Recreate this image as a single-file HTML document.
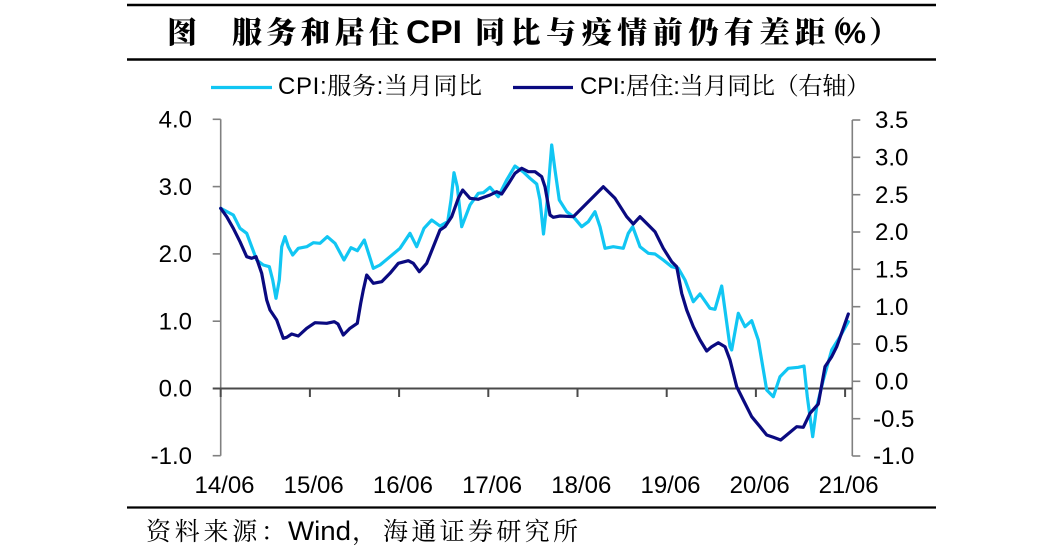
<!DOCTYPE html>
<html><head><meta charset="utf-8"><style>
html,body{margin:0;padding:0;background:#fff;}
svg{display:block;}
</style></head><body>
<svg width="1057" height="554" viewBox="0 0 1057 554" xmlns="http://www.w3.org/2000/svg">
<rect width="1057" height="554" fill="#fff"/>
<!-- frame lines -->
<line x1="127" y1="5" x2="936" y2="5" stroke="#000" stroke-width="2.6"/>
<line x1="127" y1="59.5" x2="936" y2="59.5" stroke="#000" stroke-width="2.6"/>
<line x1="127" y1="507.5" x2="936" y2="507.5" stroke="#000" stroke-width="2.2"/>
<!-- title -->
<g font-family="'Noto Serif CJK SC','Noto Sans CJK SC',serif" font-weight="900" font-size="30" fill="#000">
<text x="167" y="43">图</text>
<text x="232" y="43" textLength="167" lengthAdjust="spacing">服务和居住</text>
<text x="475" y="43" textLength="350" lengthAdjust="spacing">同比与疫情前仍有差距</text>
<text x="816" y="43">（</text>
<text x="869" y="43">）</text>
</g>
<text x="406" y="43" textLength="56" lengthAdjust="spacingAndGlyphs" font-family="'Liberation Sans',sans-serif" font-weight="bold" font-size="32" fill="#000">CPI</text>
<text x="839" y="43" textLength="27" lengthAdjust="spacingAndGlyphs" font-family="'Liberation Sans',sans-serif" font-weight="bold" font-size="30" fill="#000">%</text>
<!-- legend -->
<line x1="211" y1="87.5" x2="272" y2="87.5" stroke="#11c6f3" stroke-width="3.2"/>
<text x="278" y="94" textLength="204" lengthAdjust="spacing" font-family="'Liberation Sans','Noto Serif CJK SC',sans-serif" font-size="24" fill="#000">CPI:<tspan font-family="'Noto Serif CJK SC',serif">服务</tspan>:<tspan font-family="'Noto Serif CJK SC',serif">当月同比</tspan></text>
<line x1="513" y1="87.5" x2="573" y2="87.5" stroke="#0a0a80" stroke-width="3.2"/>
<text x="580" y="94" textLength="290" lengthAdjust="spacing" font-family="'Liberation Sans','Noto Serif CJK SC',sans-serif" font-size="24" fill="#000">CPI:<tspan font-family="'Noto Serif CJK SC',serif">居住</tspan>:<tspan font-family="'Noto Serif CJK SC',serif">当月同比（右轴）</tspan></text>
<!-- left axis -->
<g stroke="#808080" stroke-width="1.6">
<line x1="220.7" y1="119.3" x2="220.7" y2="455.7"/>
<line x1="212.7" y1="119.3" x2="220.7" y2="119.3"/>
<line x1="212.7" y1="186.6" x2="220.7" y2="186.6"/>
<line x1="212.7" y1="253.9" x2="220.7" y2="253.9"/>
<line x1="212.7" y1="321.2" x2="220.7" y2="321.2"/>
<line x1="212.7" y1="455.7" x2="220.7" y2="455.7"/>
</g>
<!-- right axis -->
<g stroke="#808080" stroke-width="1.6">
<line x1="852.3" y1="120" x2="852.3" y2="456"/>
<line x1="852.3" y1="120" x2="860.3" y2="120"/>
<line x1="852.3" y1="157.3" x2="860.3" y2="157.3"/>
<line x1="852.3" y1="194.7" x2="860.3" y2="194.7"/>
<line x1="852.3" y1="232" x2="860.3" y2="232"/>
<line x1="852.3" y1="269.3" x2="860.3" y2="269.3"/>
<line x1="852.3" y1="306.7" x2="860.3" y2="306.7"/>
<line x1="852.3" y1="344" x2="860.3" y2="344"/>
<line x1="852.3" y1="381.3" x2="860.3" y2="381.3"/>
<line x1="852.3" y1="418.7" x2="860.3" y2="418.7"/>
<line x1="852.3" y1="456" x2="860.3" y2="456"/>
</g>
<!-- x axis -->
<g stroke="#4a4a4a" stroke-width="2">
<line x1="212.7" y1="388.5" x2="852" y2="388.5"/>
<line x1="220.7" y1="388.5" x2="220.7" y2="397"/>
<line x1="309.9" y1="388.5" x2="309.9" y2="397"/>
<line x1="399.1" y1="388.5" x2="399.1" y2="397"/>
<line x1="488.3" y1="388.5" x2="488.3" y2="397"/>
<line x1="577.5" y1="388.5" x2="577.5" y2="397"/>
<line x1="666.7" y1="388.5" x2="666.7" y2="397"/>
<line x1="755.9" y1="388.5" x2="755.9" y2="397"/>
<line x1="845.1" y1="388.5" x2="845.1" y2="397"/>
</g>
<!-- left labels -->
<g font-family="'Liberation Sans',sans-serif" font-size="24" fill="#000" text-anchor="end">
<text x="192" y="127.5">4.0</text>
<text x="192" y="194.8">3.0</text>
<text x="192" y="262.1">2.0</text>
<text x="192" y="329.4">1.0</text>
<text x="192" y="396.7">0.0</text>
<text x="192" y="463.9">-1.0</text>
</g>
<!-- right labels -->
<g font-family="'Liberation Sans',sans-serif" font-size="24" fill="#000">
<text x="875" y="128.2">3.5</text>
<text x="875" y="165.5">3.0</text>
<text x="875" y="202.9">2.5</text>
<text x="875" y="240.2">2.0</text>
<text x="875" y="277.5">1.5</text>
<text x="875" y="314.9">1.0</text>
<text x="875" y="352.2">0.5</text>
<text x="875" y="389.5">0.0</text>
<text x="873" y="426.9">-0.5</text>
<text x="873" y="464.2">-1.0</text>
</g>
<!-- x labels -->
<g font-family="'Liberation Sans',sans-serif" font-size="24" fill="#000" text-anchor="middle">
<text x="224.5" y="493">14/06</text>
<text x="313.7" y="493">15/06</text>
<text x="402.9" y="493">16/06</text>
<text x="492.1" y="493">17/06</text>
<text x="581.3" y="493">18/06</text>
<text x="670.5" y="493">19/06</text>
<text x="759.7" y="493">20/06</text>
<text x="848.6" y="493">21/06</text>
</g>
<!-- series -->
<polyline fill="none" stroke="#11c6f3" stroke-width="3.2" stroke-linejoin="round" stroke-linecap="round" points="220.7,208.3 233.3,215 240,228.3 246.7,233.3 251.7,246.7 256.7,260 263.3,265 269.3,266.7 272.7,280 276,298.3 279.3,280 281.7,246.7 285,236.7 288.3,246.7 292.7,255 298.3,248.3 306.7,246.7 313.3,242.7 320,243.3 327.3,236.7 335,243.3 344,260 351,247.7 357.3,250.7 364.3,240 373.3,268.3 380,265 390,256.7 400,248.3 410,233.3 416.7,246.7 424,228.3 431.7,220 440,226 447.7,221.7 451,200 454,172.7 457.3,186.7 461.7,226.7 470,205 478.3,193.3 483.3,192.7 490,187.3 498.3,196.7 506.7,180 515,166 523.3,172 530,178.3 536.7,184 540,200 543.5,234 547.3,200 551.7,145 555,170 559.3,200 566.7,211.7 573.3,216.7 581.7,226.7 588.3,221.7 595,211.7 600,226.7 605,248.3 613.3,246.7 623.3,248.3 628.3,233.3 632.7,226.7 640,246.7 648.3,253.3 655,254 663.3,260 671.7,266.7 678.3,268.3 685,280 693.3,301.7 700,294 710,308.3 715,309.3 721.7,286 730,346.7 731.7,350 738.3,313.3 745,326.7 751.7,320.7 758.3,340 766.7,390 773.3,396.7 780,376.7 788.3,368.3 798.3,367.3 804,366 807.3,396.7 812.7,436.7 816.7,406.7 823.3,380 831.7,350 840,336.7 848.3,321.7"/>
<polyline fill="none" stroke="#0a0a80" stroke-width="3.2" stroke-linejoin="round" stroke-linecap="round" points="220.7,208.3 226.7,216.7 233.3,228.3 240,241.7 246.7,256.7 251.7,258.3 256,256.7 261.7,273.3 266.7,300 270,310 276.7,320 283.3,338.3 286.7,337.3 291.7,334 298.3,336 306.7,328.3 315,322.7 326.7,323.3 334.3,321.7 338,324 343.3,335 350,328.3 357.3,323.3 360.7,303.3 363.3,290 366.7,275 373.3,283.3 381.7,281.7 390,273.3 398.3,263.3 408.3,260.7 413.3,263.3 419.3,271.7 426.7,263.3 440,230 445,226.7 451.7,216.7 458.3,198.3 462.7,190 470,198.3 478.3,199.3 490,195 496.7,191.7 501.7,194 508.3,184 515,173.3 521.7,168.3 528.3,171.7 535,171.7 541.7,176.7 545,186.7 550,215 553.3,217.3 560,216 573.3,216.7 583.3,206.7 593.3,196.7 603.3,186.7 615,198.3 626.7,216.7 633.3,224 640,216.7 648.3,225 655,231.7 663.3,248.3 671.7,261.7 676.7,266.7 681.7,293.3 686.7,310 693.3,326.7 700,340 706.7,351 711.7,346.7 718.3,342.7 725,346.7 730,360 736.7,386.7 743.3,400 751.7,416.7 760,426.7 766.7,435 773.3,437.3 780.7,440 786.7,435 796.7,426.7 803.3,427.3 810,413.3 818.3,404 825,366.7 831.7,356.7 836.7,346.7 843.3,328.3 848.3,314"/>
<!-- source -->
<g font-family="'Noto Serif CJK SC',serif" font-size="25" fill="#000">
<text x="146" y="540" textLength="140" lengthAdjust="spacing">资料来源：</text>
<text x="288" y="540" font-family="'Liberation Sans',sans-serif" font-size="27" textLength="63" lengthAdjust="spacingAndGlyphs">Wind</text>
<text x="352" y="540">，</text>
<text x="383" y="540" textLength="195" lengthAdjust="spacing">海通证券研究所</text>
</g>
</svg>
</body></html>
